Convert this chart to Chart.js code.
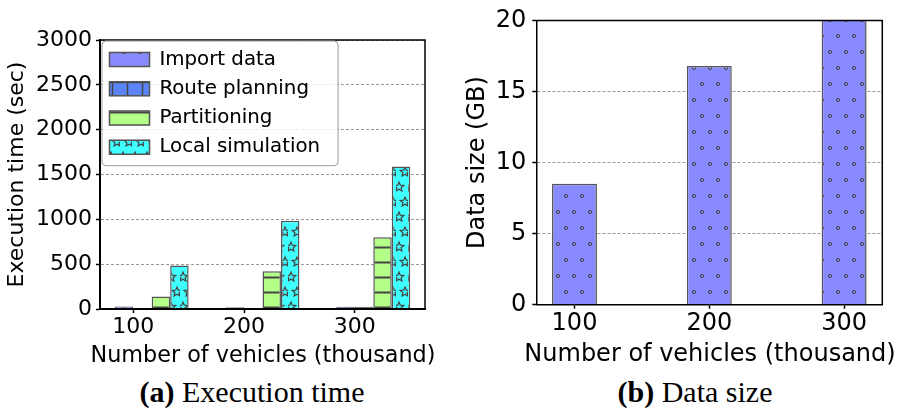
<!DOCTYPE html>
<html>
<head>
<meta charset="utf-8">
<script src="https://cdn.jsdelivr.net/npm/chart.js@4.4.1/dist/chart.umd.min.js"></script>
<style>
  html, body { margin: 0; padding: 0; background: #fff; }
  #page { position: relative; width: 900px; height: 410px; overflow: hidden; }
  .box { position: absolute; top: 0; width: 450px; height: 370px; }
  #boxA { left: 0; }
  #boxB { left: 450px; }
  .xt { position: absolute; font-family: 'DejaVu Sans', sans-serif; white-space: nowrap;
        transform: translateX(-50%); color: #000; }
  .cap { position: absolute; top: 377px; font-family: 'Liberation Serif', serif; font-size: 30px;
         line-height: 30px; white-space: nowrap; transform: translateX(-50%); color: #000; }
</style>
</head>
<body>
<div id="page">
  <div class="box" id="boxA"><canvas id="timeChart"></canvas></div>
  <div class="box" id="boxB"><canvas id="sizeChart"></canvas></div>
  <div class="xt" style="left:263px; top:343px; font-size:22.3px; line-height:22.3px">Number of vehicles (thousand)</div>
  <div class="xt" style="left:710px; top:341px; font-size:24px; line-height:24px">Number of vehicles (thousand)</div>
  <div class="cap" style="left:252px"><b>(a)</b> Execution time</div>
  <div class="cap" style="left:695px"><b>(b)</b> Data size</div>
</div>
<script>
var vehicles = [100, 200, 300];
var importData = [28, 20, 25];
var routePlanning = [8, 12, 25];
var partitioning = [140, 420, 800];
var localSimulation = [485, 985, 1590];
var dataSize = [8.5, 16.8, 25.1];
var timeTicks = [0, 500, 1000, 1500, 2000, 2500, 3000];
var sizeTicks = [0, 5, 10, 15, 20];

Chart.defaults.font.family = 'DejaVu Sans';
Chart.defaults.color = '#000';

// hatch fills, like matplotlib's 'o', '+', '-', '*'
function hatch(bg, w, h, draw) {
  var c = document.createElement('canvas');
  c.width = w; c.height = h;
  var g = c.getContext('2d');
  g.fillStyle = bg;
  g.fillRect(0, 0, w, h);
  g.strokeStyle = '#444';
  g.lineWidth = 1;
  draw(g);
  return g.createPattern(c, 'repeat');
}

function star(g, cx, cy, R, r) {
  g.beginPath();
  for (var i = 0; i < 10; i++) {
    var a = -Math.PI / 2 + i * Math.PI / 5;
    var rr = i % 2 ? r : R;
    g.lineTo(cx + rr * Math.cos(a), cy + rr * Math.sin(a));
  }
  g.closePath();
  g.stroke();
}

var dotFill = hatch('#8a8aff', 16, 32, function(g) {
  [[4, 4], [12, 20]].forEach(function(p) {
    g.beginPath(); g.arc(p[0], p[1], 1.6, 0, Math.PI * 2); g.stroke();
  });
});
var plusFill = hatch('#5b84f8', 15, 15, function(g) {
  g.lineWidth = 1.5;
  g.beginPath();
  g.moveTo(0, 7.5); g.lineTo(15, 7.5);
  g.moveTo(7.5, 0); g.lineTo(7.5, 15);
  g.stroke();
});
var lineFill = hatch('#b3ff88', 15, 15, function(g) {
  g.lineWidth = 2;
  g.beginPath(); g.moveTo(0, 7.5); g.lineTo(15, 7.5); g.stroke();
});
var starFill = hatch('#40ffff', 12, 30, function(g) {
  g.lineWidth = 1.2;
  star(g, 3, 7, 5, 2.2);
  star(g, 9, 22, 5, 2.2);
});

var frame = {
  id: 'frame',
  afterDatasetsDraw: function(chart, args, opts) {
    var a = chart.chartArea, ctx = chart.ctx;
    ctx.save();
    ctx.strokeStyle = '#000';
    ctx.lineWidth = opts.width || 1.5;
    ctx.beginPath();
    ctx.moveTo(a.left, a.top); ctx.lineTo(a.right, a.top); ctx.lineTo(a.right, a.bottom);
    ctx.stroke();
    ctx.restore();
  }
};

// keep the legend in the upper left corner of the plot, with a rounded box
var legendFrame = {
  id: 'legendFrame',
  afterLayout: function(chart) {
    var lg = chart.legend;
    if (!lg || !lg.columnSizes || !lg.columnSizes.length) return;
    lg.top = chart.chartArea.top;
    lg.height = lg.columnSizes[0].height + lg.options.labels.padding;
    lg.bottom = lg.top + lg.height + 4;
  },
  afterDraw: function(chart) {
    var lg = chart.legend;
    var ctx = chart.ctx;
    ctx.save();
    ctx.beginPath();
    ctx.roundRect(lg.left + 2, lg.top + 1, lg.width + 6, lg.height - 2, 4);
    ctx.fillStyle = 'rgba(255,255,255,0.8)';
    ctx.fill();
    ctx.strokeStyle = '#999';
    ctx.lineWidth = 1;
    ctx.stroke();
    ctx.restore();
    lg.draw();
  }
};

function setTicks(list) {
  return function(axis) {
    axis.ticks = list.map(function(v) { return { value: v }; });
  };
}

function bar(label, values, fill) {
  return {
    label: label,
    data: values,
    xAxisID: 'x',
    backgroundColor: fill,
    borderColor: '#555',
    borderWidth: 1.5,
    categoryPercentage: 2 / 3,
    barPercentage: 1
  };
}

new Chart(document.getElementById('timeChart'), {
  type: 'bar',
  data: {
    labels: vehicles,
    datasets: [
      bar('Import data', importData, dotFill),
      bar('Route planning', routePlanning, plusFill),
      bar('Partitioning', partitioning, lineFill),
      bar('Local simulation', localSimulation, starFill)
    ]
  },
  options: {
    responsive: true,
    maintainAspectRatio: false,
    animation: false,
    layout: { padding: { left: 0, top: 40, right: 25, bottom: 0 } },
    plugins: {
      tooltip: { enabled: false },
      frame: { width: 1.5 },
      legend: {
        position: 'chartArea',
        align: 'start',
        labels: { boxWidth: 40, boxHeight: 14, padding: 9.5, font: { size: 19.8 }, color: '#000' }
      }
    },
    scales: {
      // bars sit on this one; shifted so each group starts at the tick (matplotlib edge style)
      x: {
        type: 'linear', display: false, bounds: 'data', offset: false,
        min: 70 - 100 / 6, max: 1090 / 3 - 100 / 6,
        grid: { offset: false },
        afterBuildTicks: setTicks(vehicles)
      },
      x2: {
        type: 'linear', position: 'bottom', bounds: 'data', offset: false,
        min: 70, max: 1090 / 3,
        afterBuildTicks: setTicks(vehicles),
        afterFit: function(s) { s.height = 61; },
        grid: { offset: false, drawOnChartArea: false, tickLength: 4, tickColor: '#000', tickWidth: 1.5 },
        border: { display: true, color: '#000', width: 2, z: 1 },
        ticks: { font: { size: 22 }, padding: 1, callback: function(v) { return String(v); } }
      },
      y: {
        min: 0, max: 3000,
        afterBuildTicks: setTicks(timeTicks),
        afterFit: function(s) { s.width = 100; },
        grid: { color: '#999', lineWidth: 1, tickLength: 4, tickColor: '#000', tickWidth: 1.5 },
        border: { display: true, color: '#000', width: 2, dash: [3, 2], z: 1 },
        ticks: { font: { size: 22 }, padding: 4, callback: function(v) { return String(v); } },
        title: { display: true, text: 'Execution time (sec)', font: { size: 22 }, padding: { top: 4, bottom: 0 } }
      }
    }
  },
  plugins: [frame, legendFrame]
});

new Chart(document.getElementById('sizeChart'), {
  type: 'bar',
  data: {
    labels: vehicles,
    datasets: [{
      label: 'Import data',
      data: dataSize,
      backgroundColor: dotFill,
      borderColor: '#555',
      borderWidth: 1.5,
      categoryPercentage: 1 / 3,
      barPercentage: 1
    }]
  },
  options: {
    responsive: true,
    maintainAspectRatio: false,
    animation: false,
    layout: { padding: { left: 0, top: 16, right: 17.7, bottom: 0 } },
    plugins: {
      tooltip: { enabled: false },
      legend: { display: false },
      frame: { width: 1.5 }
    },
    scales: {
      x: {
        type: 'linear', bounds: 'data', offset: false,
        min: 215 / 3, max: 985 / 3,
        afterBuildTicks: setTicks(vehicles),
        afterFit: function(s) { s.height = 65.3; },
        grid: { offset: false, drawOnChartArea: false, tickLength: 4, tickColor: '#000', tickWidth: 1.5 },
        border: { display: true, color: '#000', width: 1.5, z: 1 },
        ticks: { font: { size: 24 }, padding: 1, callback: function(v) { return String(v); } }
      },
      y: {
        min: 0, max: 20,
        afterBuildTicks: setTicks(sizeTicks),
        afterFit: function(s) { s.width = 86.3; },
        grid: { color: '#999', lineWidth: 1, tickLength: 4, tickColor: '#000', tickWidth: 1.5 },
        border: { display: true, color: '#000', width: 1.5, dash: [3, 2], z: 1 },
        ticks: { font: { size: 24 }, padding: 6, callback: function(v) { return String(v); } },
        title: { display: true, text: 'Data size (GB)', font: { size: 24 }, padding: { top: 13, bottom: 0 } }
      }
    }
  },
  plugins: [frame]
});
</script>
</body>
</html>
